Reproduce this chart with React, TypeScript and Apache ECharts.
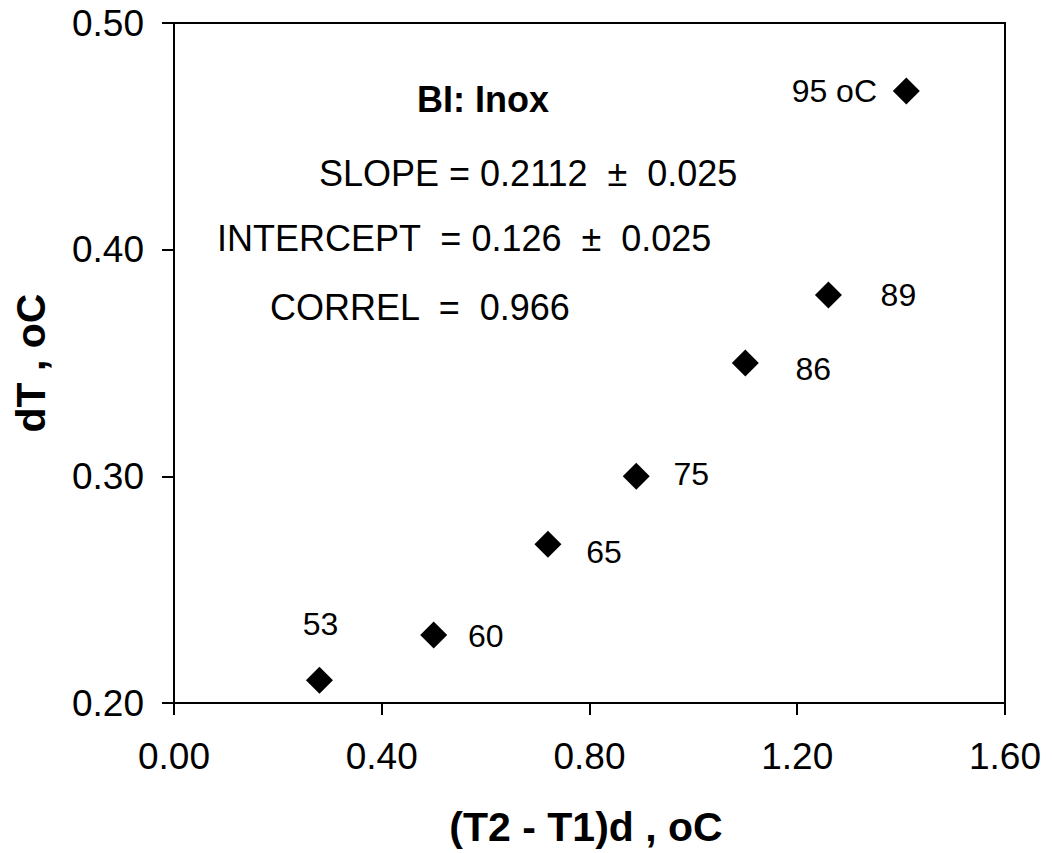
import React, { useEffect, useRef } from "react";
import * as echarts from "echarts";

const xValues = [0.28, 0.5, 0.72, 0.89, 1.1, 1.26, 1.41];
const yValues = [0.21, 0.23, 0.27, 0.3, 0.35, 0.38, 0.47];
const pointLabels = ["53", "60", "65", "75", "86", "89", "95 oC"];
const labelOffsets = [[1, -56], [52, 1], [56, 8], [55, -2], [68, 6], [70, 0], [-72, 0]];

const xTitle = "(T2 - T1)d , oC";
const yTitle = "dT , oC";
const chartTitle = "BI: Inox";
const statLines = [
  "SLOPE = 0.2112  \u00b1  0.025",
  "INTERCEPT  = 0.126  \u00b1  0.025",
  "CORREL  =  0.966",
];

const FONT = "'Liberation Sans', Arial, sans-serif";

export default function App() {
  const ref = useRef<HTMLDivElement>(null);
  useEffect(() => {
    const chart = echarts.init(ref.current!, null, { renderer: "svg" });
    const data = xValues.map((x, i) => ({
      value: [x, yValues[i]],
      label: {
        show: true,
        formatter: pointLabels[i],
        position: "inside",
        offset: labelOffsets[i],
        color: "#000",
        fontSize: 32,
        fontFamily: FONT,
      },
    }));
    chart.setOption({
      animation: false,
      backgroundColor: "#fff",
      grid: {
        left: 174,
        right: 47,
        top: 23,
        bottom: 150,
        show: true,
        borderColor: "#000",
        borderWidth: 2,
        backgroundColor: "transparent",
      },
      xAxis: {
        type: "value",
        min: 0,
        max: 1.6,
        interval: 0.4,
        splitLine: { show: false },
        axisLine: { show: true, onZero: false, lineStyle: { color: "#000", width: 2 } },
        axisTick: { show: true, length: 12, lineStyle: { color: "#000", width: 2 } },
        axisLabel: {
          margin: 35,
          color: "#000",
          fontSize: 37,
          fontFamily: FONT,
          formatter: (v: number) => v.toFixed(2),
        },
      },
      yAxis: {
        type: "value",
        min: 0.2,
        max: 0.5,
        interval: 0.1,
        splitLine: { show: false },
        axisLine: { show: true, onZero: false, lineStyle: { color: "#000", width: 2 } },
        axisTick: { show: true, length: 12, lineStyle: { color: "#000", width: 2 } },
        axisLabel: {
          margin: 30,
          color: "#000",
          fontSize: 37,
          fontFamily: FONT,
          formatter: (v: number) => v.toFixed(2),
        },
      },
      series: [
        {
          type: "scatter",
          symbol: "diamond",
          symbolSize: 27,
          itemStyle: { color: "#000", opacity: 1 },
          data,
        },
      ],
      graphic: [
        {
          type: "text",
          x: 483,
          y: 99,
          style: {
            text: chartTitle,
            fontSize: 36,
            fontWeight: "bold",
            fontFamily: FONT,
            fill: "#000",
            align: "center",
            verticalAlign: "middle",
          },
        },
        ...statLines.map((t, i) => ({
          type: "text",
          x: [319, 217, 270][i],
          y: [173, 238, 307][i],
          style: {
            text: t,
            fontSize: 36,
            fontFamily: FONT,
            fill: "#000",
            align: "left",
            verticalAlign: "middle",
          },
        })),
        {
          type: "text",
          x: 586,
          y: 827,
          style: {
            text: xTitle,
            fontSize: 41,
            fontWeight: "bold",
            fontFamily: FONT,
            fill: "#000",
            align: "center",
            verticalAlign: "middle",
          },
        },
        {
          type: "text",
          x: 31,
          y: 363,
          rotation: Math.PI / 2,
          style: {
            text: yTitle,
            fontSize: 41,
            fontWeight: "bold",
            fontFamily: FONT,
            fill: "#000",
            align: "center",
            verticalAlign: "middle",
          },
        },
      ],
    });
    return () => chart.dispose();
  }, []);
  return (
    <div
      ref={ref}
      style={{ position: "fixed", left: 0, top: 0, width: 1052, height: 853, background: "#fff" }}
    />
  );
}
